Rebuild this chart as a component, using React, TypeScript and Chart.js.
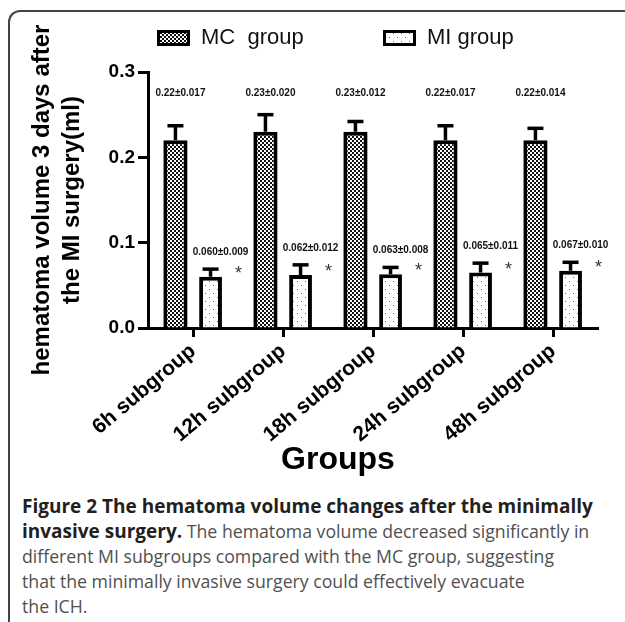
import React, { useEffect, useRef } from 'react';
import { Chart, registerables } from 'chart.js';

Chart.register(...registerables);

// ---------- data ----------
const categories = ['6h subgroup', '12h subgroup', '18h subgroup', '24h subgroup', '48h subgroup'];
const seriesNames = ['MC  group', 'MI group'];
const mcMeans = [0.22, 0.23, 0.23, 0.22, 0.22];
const mcSD = [0.017, 0.02, 0.012, 0.017, 0.014];
const miMeans = [0.06, 0.062, 0.063, 0.065, 0.067];
const miSD = [0.009, 0.012, 0.008, 0.011, 0.01];
const significance = ['*', '*', '*', '*', '*'];
const yTitle = ['hematoma volume 3 days after', 'the MI surgery(ml)'];
const xTitle = 'Groups';
const yMin = 0;
const yMax = 0.3;
const yStep = 0.1;

const FONT = 'Arial, "Liberation Sans", Helvetica, sans-serif';

function makePattern(kind: 'mc' | 'mi'): CanvasPattern | string {
  const c = document.createElement('canvas');
  const g = c.getContext('2d');
  if (!g) return '#888';
  if (kind === 'mc') {
    c.width = 4;
    c.height = 4;
    g.fillStyle = '#ffffff';
    g.fillRect(0, 0, 4, 4);
    g.fillStyle = '#111111';
    g.fillRect(0, 0, 2, 2);
    g.fillRect(2, 2, 2, 2);
  } else {
    c.width = 8;
    c.height = 8;
    g.fillStyle = '#ffffff';
    g.fillRect(0, 0, 8, 8);
    g.fillStyle = '#666666';
    g.fillRect(1, 1, 1, 1);
    g.fillRect(5, 5, 1, 1);
  }
  return g.createPattern(c, 'repeat') || '#888';
}

export default function App() {
  const ref = useRef<HTMLCanvasElement | null>(null);

  useEffect(() => {
    const canvas = ref.current;
    if (!canvas) return;
    const mcFill = makePattern('mc');
    const miFill = makePattern('mi');
    const fills = [mcFill, miFill];
    const means = [mcMeans, miMeans];
    const sds = [mcSD, miSD];

    const annotPlugin = {
      id: 'annot',
      afterDatasetsDraw(chart: any) {
        const ctx: CanvasRenderingContext2D = chart.ctx;
        const ys = chart.scales.y;
        // error bars
        [0, 1].forEach((di) => {
          const meta = chart.getDatasetMeta(di);
          meta.data.forEach((bar: any, i: number) => {
            const top = ys.getPixelForValue(means[di][i] + sds[di][i]);
            ctx.save();
            ctx.strokeStyle = '#000';
            ctx.lineWidth = 3.5;
            ctx.beginPath();
            ctx.moveTo(bar.x, bar.y);
            ctx.lineTo(bar.x, top);
            ctx.stroke();
            ctx.lineWidth = 3.5;
            ctx.beginPath();
            ctx.moveTo(bar.x - 8, top);
            ctx.lineTo(bar.x + 8, top);
            ctx.stroke();
            ctx.restore();
          });
        });
        // labels
        ctx.save();
        ctx.font = 'bold 10px ' + FONT;
        ctx.textAlign = 'center';
        ctx.textBaseline = 'middle';
        const mcMeta = chart.getDatasetMeta(0);
        mcMeta.data.forEach((bar: any, i: number) => {
          const t = mcMeans[i].toFixed(2) + '±' + mcSD[i].toFixed(3);
          ctx.fillStyle = '#111';
          ctx.fillText(t, bar.x + 5, chart.chartArea.top + 21);
        });
        const miMeta = chart.getDatasetMeta(1);
        miMeta.data.forEach((bar: any, i: number) => {
          const t = miMeans[i].toFixed(3) + '±' + miSD[i].toFixed(3);
          const w = ctx.measureText(t).width;
          const x = bar.x + 10;
          const y = ys.getPixelForValue(miMeans[i] + miSD[i]) - 17;
          ctx.fillStyle = '#ffffff';
          ctx.fillRect(x - w / 2 - 3, y - 8, w + 6, 16);
          ctx.fillStyle = '#111';
          ctx.fillText(t, x, y);
        });
        // significance marks
        ctx.font = '18px ' + FONT;
        ctx.textBaseline = 'alphabetic';
        ctx.fillStyle = '#333';
        miMeta.data.forEach((bar: any, i: number) => {
          const y = ys.getPixelForValue(miMeans[i]) - 8;
          ctx.fillText(significance[i], bar.x + 28, y + 10);
        });
        ctx.restore();
      },
      afterDraw(chart: any) {
        const ctx: CanvasRenderingContext2D = chart.ctx;
        // legend
        const items = [
          { x: 157, label: seriesNames[0], fill: fills[0] },
          { x: 383, label: seriesNames[1], fill: fills[1] },
        ];
        ctx.save();
        items.forEach((it) => {
          ctx.fillStyle = it.fill as any;
          ctx.fillRect(it.x, 30, 33, 16);
          ctx.strokeStyle = '#000';
          ctx.lineWidth = 3;
          ctx.strokeRect(it.x + 1.5, 31.5, 30, 13);
          ctx.fillStyle = '#111';
          ctx.font = '22px ' + FONT;
          ctx.textAlign = 'left';
          ctx.textBaseline = 'middle';
          ctx.fillText(it.label, it.x + 44, 38);
        });
        // x axis title
        ctx.font = 'bold 32px ' + FONT;
        ctx.textAlign = 'center';
        ctx.textBaseline = 'middle';
        ctx.fillStyle = '#000';
        ctx.fillText(xTitle, chart.chartArea.left + 190, 460);
        ctx.restore();
      },
    };

    const chart = new Chart(canvas, {
      type: 'bar',
      data: {
        labels: categories,
        datasets: [
          {
            label: seriesNames[0],
            data: mcMeans,
            backgroundColor: mcFill as any,
            borderColor: '#000',
            borderWidth: 4,
            categoryPercentage: 0.78,
            barPercentage: 0.69,
          },
          {
            label: seriesNames[1],
            data: miMeans,
            backgroundColor: miFill as any,
            borderColor: '#000',
            borderWidth: 4,
            categoryPercentage: 0.78,
            barPercentage: 0.65,
          },
        ],
      },
      options: {
        responsive: false,
        animation: false,
        layout: { padding: { left: 0, right: 27, top: 72, bottom: 0 } },
        plugins: {
          legend: { display: false },
          tooltip: { enabled: false },
        },
        scales: {
          x: {
            type: 'category',
            afterFit: (s: any) => {
              s.height = 152;
            },
            grid: {
              display: true,
              drawOnChartArea: false,
              offset: false,
              tickLength: 9,
              tickWidth: 3,
              tickColor: '#000',
            },
            border: { display: true, color: '#000', width: 3 },
            ticks: {
              color: '#000',
              font: { family: FONT, size: 21, weight: 'bold' },
              maxRotation: 40,
              minRotation: 40,
              padding: 2,
            },
            title: { display: false, text: xTitle },
          },
          y: {
            min: yMin,
            max: yMax,
            afterFit: (s: any) => {
              s.width = 148;
            },
            grid: {
              display: true,
              drawOnChartArea: false,
              tickLength: 10,
              tickWidth: 3,
              tickColor: '#000',
            },
            border: { display: true, color: '#000', width: 3 },
            ticks: {
              stepSize: yStep,
              color: '#000',
              font: { family: FONT, size: 19, weight: 'bold' },
              padding: 3,
              callback: (v: any) => Number(v).toFixed(1),
            },
            title: {
              display: true,
              text: yTitle,
              color: '#000',
              font: { family: FONT, size: 24, weight: 'bold', lineHeight: 1.25 },
              padding: { top: 27, bottom: 0 },
            },
          },
        },
      },
      plugins: [annotPlugin],
    });
    return () => chart.destroy();
  }, []);

  return (
    <div style={{ position: 'absolute', left: 0, top: 0, width: 625, height: 622, background: '#fff', overflow: 'hidden' }}>
      <div
        style={{
          position: 'absolute',
          left: 8,
          top: 10,
          width: 640,
          height: 640,
          borderTop: '2px solid #444',
          borderLeft: '2px solid #444',
          borderTopLeftRadius: 12,
        }}
      />
      <canvas ref={ref} width={625} height={480} style={{ position: 'absolute', left: 0, top: 0, width: 625, height: 480 }} />
      <div
        style={{
          position: 'absolute',
          left: 22,
          top: 494,
          width: 603,
          fontFamily: '"Open Sans", "Noto Sans", sans-serif',
          fontSize: 17.7,
          lineHeight: '25px',
          color: '#505050',
          whiteSpace: 'nowrap',
        }}
      >
        <b style={{ color: '#231f20', fontSize: 19 }}>
          Figure 2 The hematoma volume changes after the minimally
          <br />
          invasive surgery.
        </b>{' '}
        The hematoma volume decreased significantly in
        <br />
        different MI subgroups compared with the MC group, suggesting
        <br />
        that the minimally invasive surgery could effectively evacuate
        <br />
        the ICH.
      </div>
    </div>
  );
}
